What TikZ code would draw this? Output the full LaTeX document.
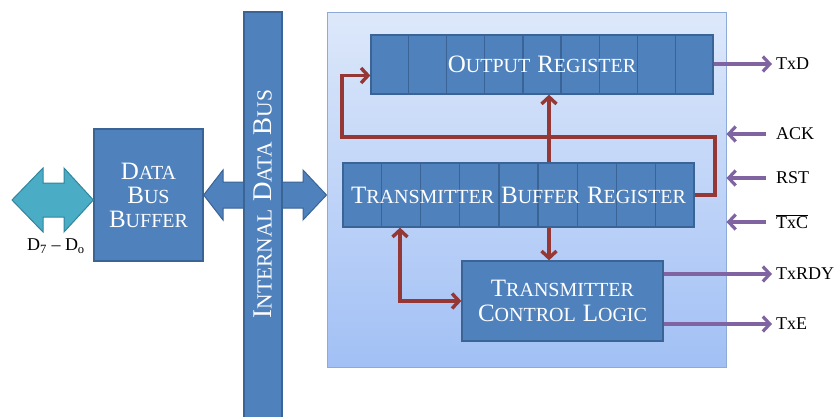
\documentclass[tikz,border=0pt]{standalone}
\usepackage{fontspec}
\newfontfamily\pinfont{Liberation Serif}
\newfontfamily\capfont{Liberation Serif}
\newcommand\SC[2]{{\fontsize{25}{24}\selectfont #1}{\fontsize{20}{24}\selectfont #2}}
\newcommand\SCbig[2]{{\fontsize{27}{26}\selectfont #1}{\fontsize{21.5}{26}\selectfont #2}}
\newcommand\WS{\hspace{7pt}}
\usetikzlibrary{arrows.meta,calc}
\definecolor{blk}{HTML}{4F81BD}
\definecolor{blkline}{HTML}{3A6496}
\definecolor{teal}{HTML}{4BACC6}
\definecolor{tealline}{HTML}{31859C}
\definecolor{rd}{HTML}{953735}
\definecolor{pur}{HTML}{8064A2}
\definecolor{pantop}{HTML}{DDE8FA}
\definecolor{panbot}{HTML}{A2C0F5}
\definecolor{panline}{HTML}{8EAAD6}
\tikzset{
  blockbox/.style={draw=blkline, line width=1.3pt, fill=blk, text=white, align=center, inner sep=0pt,
    font=\capfont\fontsize{20}{24}\selectfont},
  celltext/.style={text=white, font=\capfont\fontsize{20}{24}\selectfont, inner sep=0pt},
  cellline/.style={draw=blkline, line width=1.2pt},
  redline/.style={draw=rd, line width=3.4pt, line join=miter},
  purline/.style={draw=pur, line width=3.2pt},
  redtip/.style={-{Straight Barb[length=7pt,width=15pt]}},
  pinlabel/.style={font=\pinfont\fontsize{18}{20}\selectfont, anchor=west, inner sep=0pt}
}
\begin{document}
\begin{tikzpicture}[x=1pt,y=-1pt]
\useasboundingbox (0,0) rectangle (836,416);
\clip (0,0) rectangle (836,416);

% nodes
\node[blockbox, minimum width=109pt, minimum height=132pt] (dbb) at (148.5,195) {\SC{D}{ATA}\\\SC{B}{US}\\\SC{B}{UFFER}};
\node[draw=panline, line width=1pt, top color=pantop, bottom color=panbot, minimum width=399pt, minimum height=355pt, inner sep=0pt] (panel) at (526.5,189.5) {};

% teal double arrow
\coordinate (tl) at (12,200);
\fill[teal, draw=tealline, line width=1pt]
  (tl) -- (43,168) -- (43,183) -- (64,183) -- (64,168) -- (dbb.west |- tl)
  -- (64,232) -- (64,217) -- (43,217) -- (43,232) -- cycle;

% blue double arrow
\fill[blk, draw=blkline, line width=1pt]
  (dbb.east) -- (223,170) -- (223,182) -- (303,182) -- (303,170) -- (panel.west |- dbb.east)
  -- (303,220) -- (303,208) -- (223,208) -- (223,220) -- cycle;

% internal bus
\node[blockbox, minimum width=38pt, minimum height=410pt] (bus) at (263,217) {};
\node[rotate=90, text=white, font=\capfont\fontsize{21.5}{26}\selectfont, inner sep=0pt] (bustext) at (263,204) {\SCbig{I}{NTERNAL}\WS\SCbig{D}{ATA}\WS\SCbig{B}{US}};

% registers
\node[blockbox, minimum width=342pt, minimum height=59pt] (outreg) at (542,64.5) {};
\foreach \i in {1,...,8} \draw[cellline] ($(outreg.north west)!\i/9!(outreg.north east)$) -- ($(outreg.south west)!\i/9!(outreg.south east)$);
\node[celltext] (outtext) at (outreg.center) {\SC{O}{UTPUT}\WS\SC{R}{EGISTER}};

\node[blockbox, minimum width=351pt, minimum height=64pt] (bufreg) at (518.5,195) {};
\foreach \i in {1,...,8} \draw[cellline] ($(bufreg.north west)!\i/9!(bufreg.north east)$) -- ($(bufreg.south west)!\i/9!(bufreg.south east)$);
\node[celltext] (buftext) at (bufreg.center) {\SC{T}{RANSMITTER}\WS\SC{B}{UFFER}\WS\SC{R}{EGISTER}};

\node[blockbox, minimum width=201pt, minimum height=80pt] (ctrl) at (562.5,301) {\SC{T}{RANSMITTER}\\[1pt]\SC{C}{ONTROL}\WS\SC{L}{OGIC}};

% red connectors
\coordinate (xv) at (549,0);
\coordinate (xa) at (400,0);
\draw[redline, redtip] (bufreg.east) -- (715,195) -- (715,137) -- (342,137) |- ($(outreg.west)+(0,11)$);
\draw[redline, redtip] (bufreg.north -| xv) -- (outreg.south -| xv);
\draw[redline, redtip] (bufreg.south -| xv) -- (ctrl.north -| xv);
\draw[redline, {Straight Barb[length=7pt,width=15pt]}-{Straight Barb[length=7pt,width=15pt]}] (bufreg.south -| xa) |- (ctrl.west);

% pin labels
\node[pinlabel] (txd) at (776,64) {TxD};
\node[pinlabel] (ack) at (776,134) {ACK};
\node[pinlabel] (rst) at (776,178) {RST};
\node[pinlabel] (txc) at (776,222) {$\overline{\mbox{TxC}}$};
\node[pinlabel] (txrdy) at (776,274) {TxRDY};
\node[pinlabel] (txe) at (776,324) {TxE};
\node[font=\pinfont\fontsize{18}{20}\selectfont, inner sep=0pt] (dlab) at (56,246) {D\textsubscript{7} – D\textsubscript{o}};

% purple connectors
\draw[purline, redtip, shorten >=4pt] (outreg.east |- txd) -- (txd.west);
\draw[purline, redtip] ($(ack.west)+(-10,0)$) -- (panel.east |- ack);
\draw[purline, redtip] ($(rst.west)+(-10,0)$) -- (panel.east |- rst);
\draw[purline, redtip] ($(txc.west)+(-10,0)$) -- (panel.east |- txc);
\draw[purline, redtip, shorten >=4pt] (ctrl.east |- txrdy) -- (txrdy.west);
\draw[purline, redtip, shorten >=4pt] (ctrl.east |- txe) -- (txe.west);
\end{tikzpicture}
\end{document}
